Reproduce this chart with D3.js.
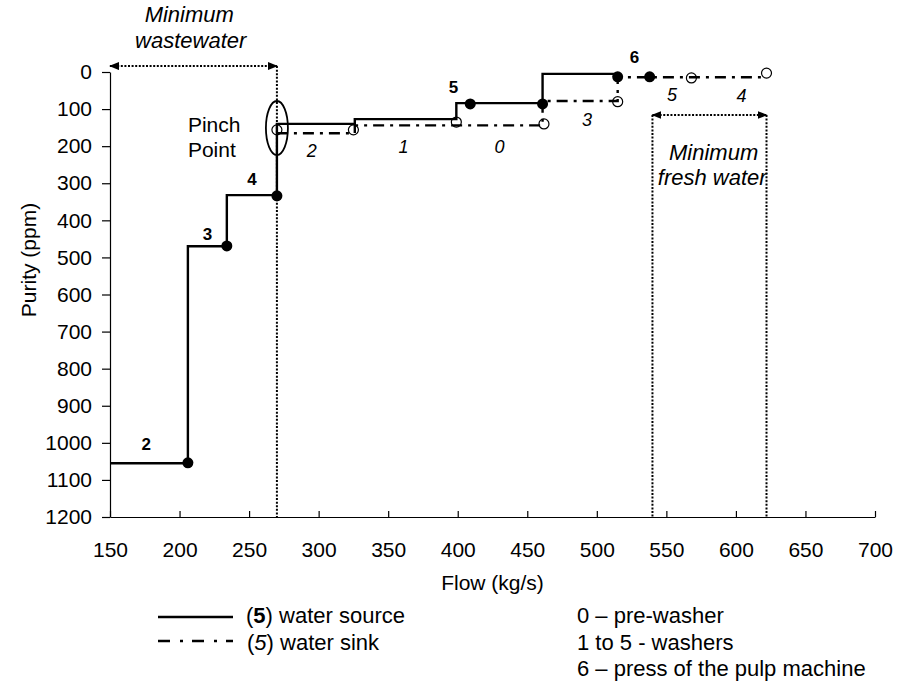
<!DOCTYPE html>
<html>
<head>
<meta charset="utf-8">
<script src="https://cdn.jsdelivr.net/npm/d3@7"></script>
<style>
body{margin:0;background:#fff}
svg text{font-family:"Liberation Sans",Arial,sans-serif;fill:#000}
</style>
</head>
<body>
<svg id="chart" width="900" height="685"></svg>
<script>
// composite curves: flow breakpoints (kg/s) and purity level (ppm) of each step
const sourceFlow = [150, 206, 234, 270, 326, 399, 461, 515]
const sourcePurity = [1055, 470, 332, 140, 127, 84, 5]
const sinkFlow = [270, 326, 461, 515, 622]
const sinkPurity = [165, 144, 78, 14]
// markers
const sourceDots = [[206,1054],[234,469],[270,334],[409,86],[461,86],[515,13],[538,13]]
const sinkRings = [[270,156],[325,156],[399,135],[462,140],[515,80],[568,16],[622,3]]
// unit numbers written beside the curves (flow, purity)
const sourceLabels = [["2",176,1019],["3",220,453],["4",252,305],["5",397,57],["6",527,-24]]
const sinkLabels = [["2",295,229],["1",361,218],["0",430,218],["3",493,146],["5",554,78],["4",604,81]]
const xTicks = [150,200,250,300,350,400,450,500,550,600,650,700]
const yTicks = [0,100,200,300,400,500,600,700,800,900,1000,1100,1200]
// pinch and targets
const pinchFlow = 270, pinchPurity = 151
const wasteFlow = [150, 270]
const freshFlow = [540, 622]

const svg = d3.select("#chart")
const font = '"Liberation Sans",Arial,sans-serif'

const x = d3.scaleLinear().domain([150, 700]).range([110, 875])
const y = d3.scaleLinear().domain([0, 1200]).range([72, 517])

// axes
const xAxis = svg.append("g")
    .attr("transform", `translate(0,${y(1200)})`)
    .call(d3.axisBottom(x).tickValues(xTicks).tickFormat(d3.format("d"))
        .tickSize(-6).tickSizeOuter(0).tickPadding(25))
const yAxis = svg.append("g")
    .attr("transform", `translate(${x(150)},0)`)
    .call(d3.axisLeft(y).tickValues(yTicks).tickFormat(d3.format("d"))
        .tickSize(8).tickSizeOuter(0).tickPadding(10))
;[xAxis, yAxis].forEach(g => {
    g.attr("font-size", 21).attr("font-family", font)
    g.selectAll("path,line").attr("stroke", "#000").attr("stroke-width", 1.2)
    g.selectAll("text").attr("fill", "#000")
})

svg.append("text")
    .attr("x", (x(150) + x(700)) / 2).attr("y", 590)
    .attr("text-anchor", "middle").attr("font-size", 21)
    .text("Flow (kg/s)")
svg.append("text")
    .attr("transform", "translate(36,260) rotate(-90)")
    .attr("text-anchor", "middle").attr("font-size", 21)
    .text("Purity (ppm)")

// arrow heads
svg.append("defs").append("marker")
    .attr("id", "arrow")
    .attr("markerUnits", "userSpaceOnUse")
    .attr("viewBox", "0 0 10 8")
    .attr("markerWidth", 10).attr("markerHeight", 8)
    .attr("refX", 9).attr("refY", 4)
    .attr("orient", "auto-start-reverse")
    .append("path").attr("d", "M0,0L10,4L0,8Z").attr("fill", "#000")

const dotted = sel => sel.attr("stroke", "#000").attr("stroke-width", 2)
    .attr("stroke-dasharray", "2,1.6").attr("fill", "none")

// minimum wastewater
dotted(svg.append("line")
    .attr("x1", x(wasteFlow[0])).attr("x2", x(wasteFlow[1]))
    .attr("y1", y(-16)).attr("y2", y(-16))
    .attr("marker-start", "url(#arrow)").attr("marker-end", "url(#arrow)"))
dotted(svg.append("line")
    .attr("x1", x(wasteFlow[1])).attr("x2", x(wasteFlow[1]))
    .attr("y1", y(-16)).attr("y2", y(1200)))

// minimum fresh water
dotted(svg.append("line")
    .attr("x1", x(freshFlow[0])).attr("x2", x(freshFlow[1]))
    .attr("y1", y(116)).attr("y2", y(116))
    .attr("marker-start", "url(#arrow)").attr("marker-end", "url(#arrow)"))
freshFlow.forEach(f => dotted(svg.append("line")
    .attr("x1", x(f)).attr("x2", x(f))
    .attr("y1", y(116)).attr("y2", y(1200))))

// step paths
function steps(flow, purity) {
    const pts = []
    purity.forEach((p, i) => {
        pts.push([flow[i], p])
        pts.push([flow[i + 1], p])
    })
    return pts
}
const line = d3.line().x(d => x(d[0])).y(d => y(d[1]))

svg.append("path")
    .attr("d", line(steps(sinkFlow, sinkPurity)))
    .attr("fill", "none").attr("stroke", "#000").attr("stroke-width", 2.4)
    .attr("stroke-dasharray", "11,6,3,6")

svg.append("path")
    .attr("d", line(steps(sourceFlow, sourcePurity)))
    .attr("fill", "none").attr("stroke", "#000").attr("stroke-width", 2.4)

svg.selectAll("circle.ring")
    .data(sinkRings)
    .join("circle")
    .attr("class", "ring")
    .attr("cx", d => x(d[0])).attr("cy", d => y(d[1]))
    .attr("r", 5).attr("fill", "none").attr("stroke", "#000").attr("stroke-width", 1.2)

svg.selectAll("circle.dot")
    .data(sourceDots)
    .join("circle")
    .attr("class", "dot")
    .attr("cx", d => x(d[0])).attr("cy", d => y(d[1]))
    .attr("r", 5.5).attr("fill", "#000")

// pinch ellipse
svg.append("ellipse")
    .attr("cx", x(pinchFlow)).attr("cy", y(pinchPurity))
    .attr("rx", 11).attr("ry", 27)
    .attr("fill", "none").attr("stroke", "#000").attr("stroke-width", 1.8)

// unit labels
svg.selectAll("text.src")
    .data(sourceLabels)
    .join("text")
    .attr("class", "src")
    .attr("x", d => x(d[1])).attr("y", d => y(d[2]))
    .attr("text-anchor", "middle").attr("font-size", 17).attr("font-weight", "bold")
    .text(d => d[0])

svg.selectAll("text.snk")
    .data(sinkLabels)
    .join("text")
    .attr("class", "snk")
    .attr("x", d => x(d[1])).attr("y", d => y(d[2]))
    .attr("text-anchor", "middle").attr("font-size", 18).attr("font-style", "italic")
    .text(d => d[0])

// annotations
const note = (t, fx, p, opt) => svg.append("text")
    .attr("x", x(fx)).attr("y", y(p))
    .attr("text-anchor", opt.anchor || "middle")
    .attr("font-size", opt.size || 21)
    .attr("font-style", opt.italic ? "italic" : "normal")
    .text(t)
note("Minimum", 207, -135, {italic: true, size: 22})
note("wastewater", 208, -65, {italic: true, size: 22})
note("Pinch", 206, 162, {anchor: "start"})
note("Point", 206, 229, {anchor: "start"})
note("Minimum", 584, 237, {italic: true, size: 22})
note("fresh water", 583, 305, {italic: true, size: 22})

// legend
const legend = svg.append("g")
legend.append("line")
    .attr("x1", 158).attr("x2", 233).attr("y1", 617).attr("y2", 617)
    .attr("stroke", "#000").attr("stroke-width", 2.6)
legend.append("line")
    .attr("x1", 158).attr("x2", 233).attr("y1", 641).attr("y2", 641)
    .attr("stroke", "#000").attr("stroke-width", 2.6)
    .attr("stroke-dasharray", "12,10,3,9")

const t1 = legend.append("text").attr("x", 246).attr("y", 623).attr("font-size", 22)
t1.append("tspan").text("(")
t1.append("tspan").attr("font-weight", "bold").text("5")
t1.append("tspan").text(") water source")
const t2 = legend.append("text").attr("x", 247).attr("y", 650).attr("font-size", 22)
t2.append("tspan").text("(")
t2.append("tspan").attr("font-style", "italic").text("5")
t2.append("tspan").text(") water sink")

const units = ["0 \u2013 pre-washer", "1 to 5 - washers", "6 \u2013 press of the pulp machine"]
legend.selectAll("text.unit")
    .data(units)
    .join("text")
    .attr("class", "unit")
    .attr("x", 577).attr("y", (d, i) => 623 + i * 26.5)
    .attr("font-size", 22)
    .text(d => d)
</script>
</body>
</html>
